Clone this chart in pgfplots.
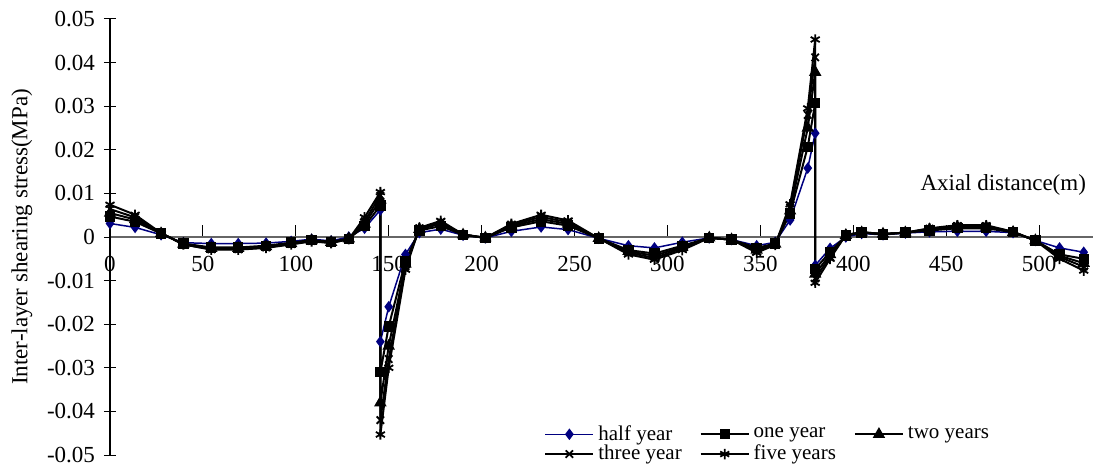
\documentclass[border=0pt]{standalone}
\usepackage{pgfplots}
\pgfplotsset{compat=1.18}
\usepackage{pgfplotstable}
\usepackage{fontspec}
\setmainfont{Liberation Serif}
\definecolor{navyb}{RGB}{0,0,128}
\pgfplotstableread{
x      half     one      two      three    five
0      0.0031   0.0047   0.0055   0.0064   0.0074
13.5   0.0022   0.0035   0.0040   0.0045   0.0051
27.5   0.0005   0.0008   0.0008   0.0009   0.0009
39.5  -0.0013  -0.0015  -0.0016  -0.0017  -0.0017
54.5  -0.0015  -0.0024  -0.0026  -0.0028  -0.0029
69    -0.0015  -0.0024  -0.0026  -0.0028  -0.0029
84    -0.0014  -0.0020  -0.0022  -0.0024  -0.0025
97.5  -0.0010  -0.0013  -0.0015  -0.0016  -0.0017
108.5 -0.0005  -0.0007  -0.0008  -0.0009  -0.0010
119   -0.0009  -0.0011  -0.0012  -0.0013  -0.0014
128.5  0.0000  -0.0004  -0.0004  -0.0005  -0.0005
137    0.0020   0.0025   0.0030   0.0036   0.0045
145.5  0.0062   0.0072   0.0085   0.0095   0.0103
145.5 -0.0240  -0.0310  -0.0380  -0.0420  -0.0453
150   -0.0160  -0.0205  -0.0250  -0.0280  -0.0300
159   -0.0040  -0.0055  -0.0062  -0.0068  -0.0075
166.5  0.0010   0.0015   0.0018   0.0020   0.0021
178    0.0018   0.0025   0.0030   0.0033   0.0037
190    0.0004   0.0005   0.0005   0.0006   0.0006
202   -0.0002  -0.0002  -0.0002  -0.0002  -0.0002
216    0.0013   0.0022   0.0025   0.0028   0.0030
232    0.0023   0.0036   0.0041   0.0046   0.0051
246.5  0.0017   0.0026   0.0030   0.0034   0.0038
263   -0.0003  -0.0003  -0.0003  -0.0003  -0.0003
279   -0.0020  -0.0030  -0.0033  -0.0036  -0.0040
293   -0.0025  -0.0038  -0.0043  -0.0048  -0.0052
308   -0.0012  -0.0020  -0.0023  -0.0026  -0.0030
322.5 -0.0002  -0.0002  -0.0002  -0.0002  -0.0002
334.5 -0.0006  -0.0006  -0.0006  -0.0006  -0.0006
348   -0.0020  -0.0025  -0.0030  -0.0033  -0.0036
358   -0.0012  -0.0015  -0.0016  -0.0017  -0.0018
366    0.0039   0.0054   0.0060   0.0068   0.0075
375.5  0.0158   0.0207   0.0250   0.0280   0.0295
379.5  0.0238   0.0307   0.0378   0.0412   0.0453
379.5 -0.0065  -0.0073  -0.0085  -0.0095  -0.0105
387.5 -0.0026  -0.0035  -0.0040  -0.0045  -0.0050
396    0.0000   0.0003   0.0004   0.0004   0.0005
404.5  0.0008   0.0010   0.0010   0.0011   0.0011
416    0.0005   0.0006   0.0007   0.0007   0.0007
428    0.0009   0.0010   0.0010   0.0010   0.0010
441    0.0012   0.0015   0.0017   0.0019   0.0020
456    0.0013   0.0020   0.0023   0.0025   0.0027
471.5  0.0013   0.0020   0.0023   0.0025   0.0027
486    0.0010   0.0011   0.0011   0.0012   0.0012
498   -0.0008  -0.0008  -0.0008  -0.0008  -0.0008
511   -0.0025  -0.0040  -0.0043  -0.0046  -0.0050
524   -0.0035  -0.0050  -0.0060  -0.0068  -0.0077
}\datatable
\begin{document}
\begin{tikzpicture}
\useasboundingbox (-55pt,-6.5pt) rectangle (497pt,227.5pt);
\begin{axis}[
  at={(0,0)}, anchor=south west,
  scale only axis, width=491.5pt, height=218pt,
  xmin=0, xmax=529, ymin=-0.05, ymax=0.05,
  axis x line=middle, axis y line=left,
  axis line style={-},
  x axis line style={gray!80!black, line width=0.6pt},
  y axis line style={black, line width=0.6pt},
  hide obscured x ticks=false,
  hide obscured y ticks=false,
  scaled y ticks=false,
  xtick={0,50,...,500},
  ytick={-0.05,-0.04,-0.03,-0.02,-0.01,0,0.01,0.02,0.03,0.04,0.05},
  yticklabels={-0.05,-0.04,-0.03,-0.02,-0.01,0,0.01,0.02,0.03,0.04,0.05},
  tick style={black, line width=0.5pt},
  major tick length=6pt,
  xtick align=inside,
  ytick align=center,
  /pgf/number format/assume math mode=true,
  ticklabel style={font=\fontsize{11.5}{13}\selectfont},
  xticklabel style={yshift=-6pt},
  yticklabel style={xshift=-1pt},
  legend style={draw=none, fill=none, at={(0.4415,0.078)}, anchor=north west,
    inner sep=0pt, font=\fontsize{10.5}{11}\selectfont, row sep=-3pt,
    /tikz/every even column/.append style={column sep=7pt}},
  legend columns=3,
  legend cell align=left,
  legend image code/.code={\draw[mark repeat=2,mark phase=2] plot coordinates {(0pt,0pt) (12pt,0pt) (24pt,0pt)};},
  clip=false,
]
\addplot[navyb, line width=0.75pt, mark=diamond*, mark size=2.3pt, mark options={solid,fill=navyb}] table[x=x,y=half] {\datatable};
\addlegendentry{half year}
\addplot[black, line width=1pt, mark=square*, mark size=2.1pt, mark options={solid}] table[x=x,y=one] {\datatable};
\addlegendentry{one year}
\addplot[black, line width=1pt, mark=triangle*, mark size=2.6pt, mark options={solid}] table[x=x,y=two] {\datatable};
\addlegendentry{two years}
\addplot[black, line width=1pt, mark=x, mark size=2.6pt, mark options={solid,line width=0.9pt}] table[x=x,y=three] {\datatable};
\addlegendentry{three year}
\addplot[black, line width=1pt, mark=asterisk, mark size=2.6pt, mark options={solid,line width=0.9pt}] table[x=x,y=five] {\datatable};
\addlegendentry{five years}
\node[anchor=east, font=\fontsize{11.5}{13}\selectfont] at (axis cs:529,0.0119) {Axial distance(m)};
\node[rotate=90, anchor=center, font=\fontsize{11.5}{13}\selectfont] at ([xshift=-44pt]rel axis cs:0,0.5) {Inter-layer shearing stress(MPa)};
\end{axis}
\end{tikzpicture}
\end{document}
